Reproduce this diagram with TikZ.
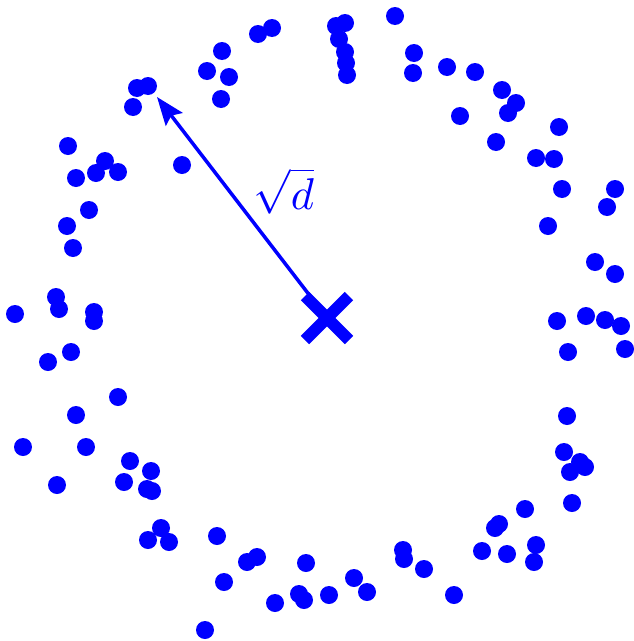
\documentclass[tikz,border=0pt]{standalone}
\usepackage{amsmath,amssymb}
\usepackage{tikz}
\usetikzlibrary{arrows.meta}

\begin{document}
\begin{tikzpicture}[
    x=0.03cm, y=-0.03cm,
    sample/.style={fill=blue},
    cross/.style={blue, line width=10pt},
    radius/.style={blue, line width=3pt, -{Stealth[length=24pt,width=18pt,inset=4pt]}},
    >=Stealth
]
    \useasboundingbox (0,0) rectangle (633,641);

    % Samples
    \foreach \px/\py in {272/28,258/34,222/51,207/71,229/77,221/99,137/88,148/86,133/107,
        68/146,105/161,96/173,118/172,76/178,182/165,89/210,67/226,73/248,56/297,59/309,
        94/312,94/321,15/314,
        395/16,345/23,336/26,339/39,345/52,346/63,347/75,414/53,413/73,447/67,475/72,
        502/90,516/103,508/113,460/116,559/127,496/142,536/158,554/159,562/189,615/189,
        607/207,548/226,595/262,615/274,557/321,586/316,605/320,621/326,625/349,568/352,
        567/416,564/452,580/462,585/467,570/472,572/503,525/509,499/524,495/528,482/551,
        507/554,536/545,534/562,403/550,404/559,424/569,354/578,367/592,329/595,454/595,
        71/352,48/362,118/397,76/415,23/447,86/447,130/461,151/471,124/482,147/489,
        152/491,57/485,161/528,148/540,169/542,217/536,257/557,247/562,306/563,224/582,
        299/594,304/600,275/603,205/630}
        \fill[sample] (\px,\py) circle (9);

    % Centre and radius
    \coordinate (centre) at (327,318);
    \coordinate (tip) at (157,97);
    \draw[radius] (centre) -- (tip);
    \node[text=blue, scale=3.8] (rlabel) at (284,191) {$\sqrt{d}$};

    % Cross
    \draw[cross] ([shift={(-22,-22)}]centre) -- ([shift={(22,22)}]centre);
    \draw[cross] ([shift={(-22,22)}]centre) -- ([shift={(22,-22)}]centre);
\end{tikzpicture}
\end{document}
